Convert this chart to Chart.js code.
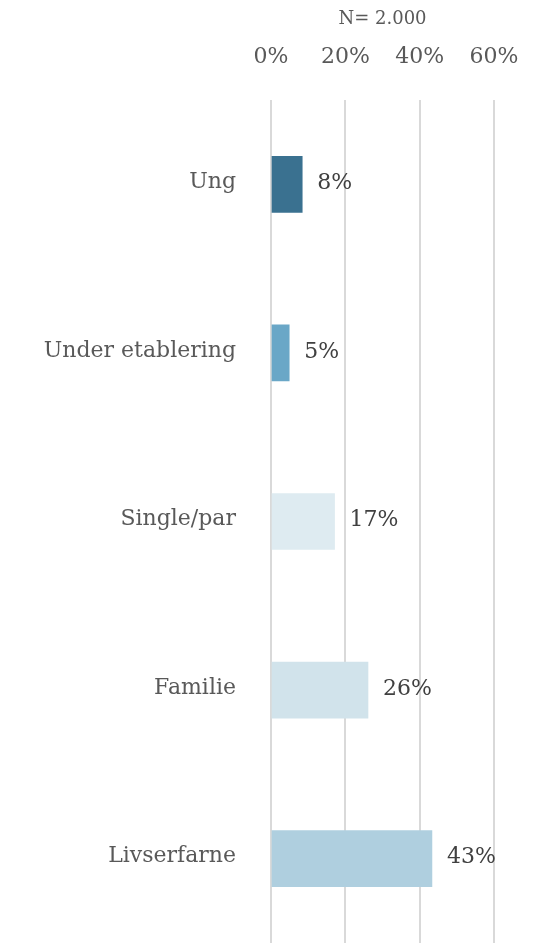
<!DOCTYPE html>
<html>
<head>
<meta charset="utf-8">
<script src="https://cdn.jsdelivr.net/npm/chart.js@4/dist/chart.umd.min.js"></script>
<style>
  html, body { margin: 0; padding: 0; background: #ffffff; }
  #wrap { width: 544px; height: 943px; position: relative; }
</style>
</head>
<body>
<div id="wrap"><canvas id="c" width="544" height="943"></canvas></div>
<script>
const categories = ["Ung", "Under etablering", "Single/par", "Familie", "Livserfarne"];
const values = [8.4, 4.9, 17.1, 26.1, 43.3];
const valueLabels = ["8%", "5%", "17%", "26%", "43%"];
const barColors = ["#3a7190", "#6aa7c7", "#deebf1", "#d1e3eb", "#afcfdf"];
const tickValues = [0, 20, 40, 60];
const axisTitle = "N= 2.000";

const FONT = "'DejaVu Serif', serif";

const valueLabelPlugin = {
  id: 'valueLabels',
  afterDatasetsDraw(chart) {
    const ctx = chart.ctx;
    const meta = chart.getDatasetMeta(0);
    ctx.save();
    ctx.font = "22px " + FONT;
    ctx.fillStyle = "#404040";
    ctx.textAlign = "left";
    ctx.textBaseline = "middle";
    meta.data.forEach((bar, i) => {
      ctx.fillText(valueLabels[i], bar.x + 15, bar.y - 1);
    });
    ctx.restore();
  }
};

new Chart(document.getElementById('c'), {
  type: 'bar',
  data: {
    labels: categories,
    datasets: [{
      data: values,
      backgroundColor: barColors,
      borderWidth: 0,
      barThickness: 56
    }]
  },
  options: {
    indexAxis: 'y',
    responsive: false,
    animation: false,
    layout: { padding: { left: 0, right: 50, top: 0, bottom: 0 } },
    plugins: { legend: { display: false }, tooltip: { enabled: false } },
    scales: {
      x: {
        position: 'top',
        min: 0,
        max: 60,
        afterBuildTicks(scale) { scale.ticks = tickValues.map(v => ({ value: v })); },
        afterFit(scale) {
          scale.height = 100;
          scale.paddingLeft = 0; scale.paddingRight = 0;
          scale.paddingTop = 0; scale.paddingBottom = 0;
        },
        grid: { color: '#d9d9d9', lineWidth: 2, drawTicks: false },
        border: { display: false },
        ticks: {
          padding: 30,
          color: '#595959',
          font: { family: FONT, size: 22 },
          callback: (v) => v + '%'
        },
        title: {
          display: true,
          text: axisTitle,
          color: '#595959',
          font: { family: FONT, size: 18 },
          padding: { top: 9, bottom: 0 }
        }
      },
      y: {
        afterFit(scale) {
          scale.width = 271;
          scale.paddingLeft = 0; scale.paddingRight = 0;
          scale.paddingTop = 0; scale.paddingBottom = 0;
        },
        grid: { display: false, drawTicks: false },
        border: { display: false },
        ticks: {
          padding: 35,
          labelOffset: -2,
          color: '#595959',
          font: { family: FONT, size: 22 }
        }
      }
    }
  },
  plugins: [valueLabelPlugin]
});
</script>
</body>
</html>
